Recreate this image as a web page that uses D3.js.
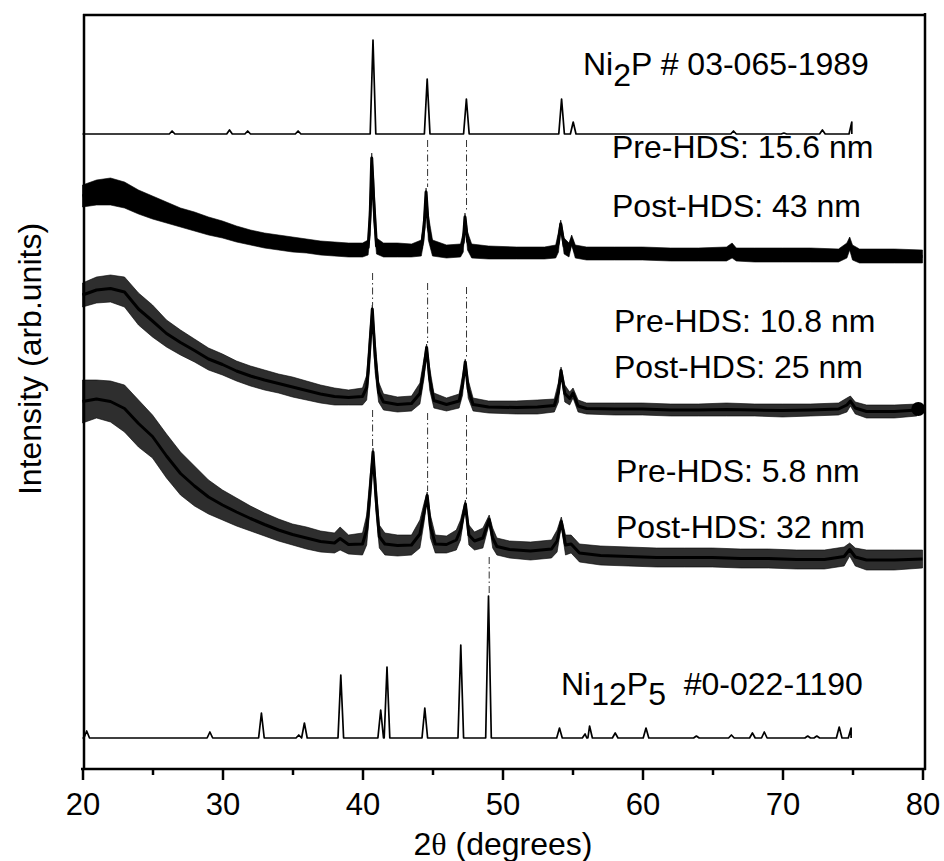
<!DOCTYPE html>
<html lang="en">
<head>
<meta charset="utf-8">
<title>XRD patterns</title>
<script src="https://d3js.org/d3.v7.min.js"></script>
<style>
  body { margin: 0; background: #fff; }
  svg { display: block; }
  text { font-family: "Liberation Sans", Arial, Helvetica, sans-serif; }
  .lbl { font-size: 32px; fill: #000; white-space: pre; }
  .tick text { font-size: 31px; font-family: "Liberation Sans", Arial, Helvetica, sans-serif; }
</style>
</head>
<body>
<svg id="chart" width="944" height="861"></svg>
<script>
// x axis ticks
const xTicks = [20, 30, 40, 50, 60, 70, 80];
const xMinorTicks = [25, 35, 45, 55, 65, 75];

// reference cards: baseline, last 2theta, peaks [2theta, height]
const ni2pBase = 317.5;
const ni2pEnd = 74.95;
const ni2pPeaks = [
  [26.4, 1.5], [30.5, 2], [31.8, 1.5], [35.4, 1.5], [40.75, 47], [44.62, 27.5],
  [47.42, 17.5], [54.22, 17.5], [55.05, 6], [66.5, 1.5], [70.1, 0.5], [72.85, 2], [74.95, 6]
];
const ni12p5Base = 15.5;
const ni12p5End = 74.9;
const ni12p5Peaks = [
  [20.3, 3.5], [29.1, 3], [32.78, 12.5], [35.45, 1.5], [35.85, 7.5], [38.45, 31.5],
  [41.3, 14], [41.75, 35.5], [44.45, 15], [47.02, 46.5], [49.0, 71], [54.07, 5],
  [55.9, 2], [56.22, 6], [58.05, 2.5], [60.25, 5], [63.85, 1], [66.35, 1.5],
  [67.85, 2.5], [68.7, 3], [71.8, 1], [72.45, 1], [74.05, 5.5], [74.9, 5]
];

// measured scans, noise envelope [2theta, low, high]
const scan156 = [
  [20, 281, 292], [21, 282, 294.5], [22, 282, 295.5], [23, 280.5, 293.5], [24, 277.5, 289.5],
  [25, 275, 286.5], [26, 273, 283.5], [27, 271, 280.5], [28, 269, 278.5], [29, 267, 276],
  [30, 265.5, 274], [31, 263.5, 271.5], [32, 262, 269.5], [33, 260.5, 268], [34, 259.5, 267],
  [35, 258.5, 266], [36, 258, 265], [37, 257, 264], [38, 256.5, 263.5], [39, 256, 263],
  [40, 256, 263], [40.4, 257, 264.5], [40.55, 267, 287], [40.66, 303, 308], [40.8, 274.5, 294.5],
  [41, 257.5, 265.5], [41.5, 256, 263], [42.5, 256, 263], [43.5, 256, 262.5], [44.2, 256.5, 264.5],
  [44.4, 264.5, 277], [44.54, 286.5, 290.5], [44.7, 264.5, 277], [45, 256.5, 264.5], [46, 255.5, 262],
  [47, 256, 262.5], [47.2, 258.5, 268.5], [47.32, 274, 278], [47.5, 259.5, 268.5], [47.8, 255.5, 262.5],
  [49, 255, 261.5], [51, 255, 261], [53, 255, 261], [53.8, 255.5, 262], [54, 258.5, 268.5],
  [54.16, 270.5, 274.5], [54.4, 257.5, 265.5], [54.75, 256, 263], [54.94, 262, 267], [55.2, 255.5, 262],
  [56, 254.5, 261], [58, 254.5, 261], [60, 254.5, 261], [62, 254, 260.5], [64, 254, 260.5],
  [66, 254, 261], [66.4, 255.5, 263], [66.7, 254, 260.5], [68, 253.5, 260.5], [70, 253.5, 260.5],
  [72, 253.5, 260.5], [74, 253.5, 260], [74.6, 255.5, 263], [74.8, 259.5, 266], [75, 254.5, 262],
  [75.5, 253, 260], [78, 253, 260], [80, 253, 259.5]
];
const scan108 = [
  [20, 231, 243], [21, 233, 246], [22, 233.5, 247], [23, 231, 246], [24, 222, 238],
  [25, 216, 232], [26, 211, 224.5], [27, 207, 219.5], [28, 203.5, 215], [29, 199.5, 210.5],
  [30, 197, 207.5], [31, 194, 204], [32, 191.5, 201.5], [33, 189.5, 199.5], [34, 188, 197.5],
  [35, 186, 196], [36, 184.5, 194], [37, 183, 192], [38, 182, 190.5], [39, 182, 189.5],
  [40, 182, 190.5], [40.3, 184.5, 197], [40.5, 199.5, 217], [40.7, 228, 232], [40.9, 198.5, 214.5],
  [41.15, 183.5, 193.5], [41.5, 179.5, 187.5], [42.5, 178.5, 186], [43.5, 179, 186.5], [44.1, 182.5, 193],
  [44.4, 195.5, 205.5], [44.58, 209, 212.5], [44.8, 189.5, 200.5], [45.1, 180.5, 188], [46, 179, 185.5],
  [46.9, 180.5, 187.5], [47.15, 187, 197], [47.34, 202, 205], [47.55, 185.5, 194.5], [47.9, 179, 185.5],
  [49, 178, 184], [51, 177.5, 184], [52.5, 177.5, 184.5], [53.7, 178.5, 185], [54, 183.5, 193.5],
  [54.18, 197.5, 201], [54.45, 183.5, 192], [54.8, 182, 188.5], [55.04, 185.5, 190.5], [55.4, 178.5, 184.5],
  [56, 177.5, 183], [58, 177, 183], [60, 177, 183], [62, 176.5, 182.5], [64, 176.5, 182.5],
  [66, 176.5, 183], [68, 176.5, 182.5], [70, 176, 182.5], [72, 176.5, 182.5], [74, 177, 183],
  [74.6, 178.5, 185.5], [74.85, 181.5, 186.5], [75.2, 177.5, 183.5], [76, 175.5, 182], [78, 175.5, 182],
  [79.6, 176.5, 182.5]
];
const scan108Dot = [79.7, 180];
const scan58 = [
  [20, 173, 194.5], [21, 175.5, 194.5], [22, 173.5, 194], [23, 168.5, 192], [24, 161, 184.5],
  [25, 155.5, 177], [26, 145.5, 167.5], [27, 137, 158.5], [28, 131.5, 151.5], [29, 127.5, 144.5],
  [30, 124.5, 139.5], [31, 121.5, 135.5], [32, 119, 131.5], [33, 116.5, 128], [34, 114, 125],
  [35, 112, 122.5], [36, 110, 121], [37, 108.5, 119], [38, 108, 118], [38.4, 109.5, 121],
  [39, 107.5, 117], [40, 107, 118], [40.3, 112, 127], [40.55, 132, 147], [40.75, 156.5, 160.5],
  [40.95, 129.5, 144.5], [41.2, 110.5, 122], [41.6, 107, 118], [42.5, 106.5, 117], [43.5, 107, 117],
  [44.1, 110.5, 124.5], [44.4, 123.5, 133], [44.62, 135, 138.5], [44.85, 115.5, 127], [45.2, 108, 117],
  [46, 108, 116.5], [46.7, 109.5, 119.5], [47, 114.5, 124.5], [47.35, 130.5, 134.5], [47.6, 112, 122],
  [48, 109.5, 118.5], [48.6, 110.5, 120.5], [49.05, 122.5, 127], [49.3, 110.5, 120.5], [49.6, 107, 115.5],
  [50.5, 105.5, 114], [52, 104.5, 113.5], [53.5, 105.5, 114.5], [53.9, 108.5, 119.5], [54.2, 121.5, 126],
  [54.5, 107, 117], [54.9, 108, 117], [55.5, 103.5, 112.5], [57, 102, 111.5], [59, 101.5, 111],
  [61, 101, 110.5], [63, 101, 110.5], [65, 101, 110.5], [67, 100.5, 110], [69, 100.5, 110],
  [71, 100, 109.5], [73, 100, 109.5], [74.4, 101.5, 111], [74.8, 106.5, 113], [75.2, 101.5, 110.5],
  [76, 99.5, 109.5], [78, 99.5, 109.5], [80, 100.5, 109.5]
];

// dash-dot guides [2theta, from, to]
const guides = [
  [44.65, 314.5, 291], [47.43, 314.5, 279],
  [40.72, 248, 232], [44.65, 243, 213], [47.43, 241, 206],
  [40.72, 179.5, 161], [44.65, 178, 139], [47.43, 177, 135],
  [49.05, 106, 87]
];

const sampleLabels = [
  "Pre-HDS: 15.6 nm", "Post-HDS: 43 nm",
  "Pre-HDS: 10.8 nm", "Post-HDS: 25 nm",
  "Pre-HDS: 5.8 nm", "Post-HDS: 32 nm"
];

const svg = d3.select("#chart");
const x = d3.scaleLinear().domain([20, 80]).range([82.5, 922.5]);
const y = d3.scaleLinear().domain([0, 377]).range([769, 15]);

// reference card -> line points (narrow triangle per peak)
function cardPoints(peaks, base, end) {
  const pts = [[20, base]];
  peaks.forEach(p => {
    pts.push([p[0] - 0.2, base], [p[0], base + p[1]], [p[0] + 0.2, base]);
  });
  pts.push([end, base]);
  return pts.filter(p => p[0] <= end).sort((a, b) => a[0] - b[0]);
}

const line = d3.line().x(d => x(d[0])).y(d => y(d[1]));
const band = d3.area().x(d => x(d[0])).y0(d => y(d[1])).y1(d => y(d[2]));
const mid = d3.line().x(d => x(d[0])).y(d => y((d[1] + d[2]) / 2));

const plot = svg.append("g");

[[ni2pPeaks, ni2pBase, ni2pEnd], [ni12p5Peaks, ni12p5Base, ni12p5End]].forEach(c => {
  plot.append("path")
    .attr("d", line(cardPoints(c[0], c[1], c[2])))
    .attr("fill", "none")
    .attr("stroke", "#000")
    .attr("stroke-width", 1.7)
    .attr("stroke-linejoin", "round");
});

// noisy scans: dark envelope + black core
const bandOpacity = [1, 0.82, 0.82];
[scan156, scan108, scan58].forEach((s, i) => {
  plot.append("path")
    .attr("d", band(s))
    .attr("fill", "#000")
    .attr("fill-opacity", bandOpacity[i])
    .attr("stroke", "#000")
    .attr("stroke-opacity", 0.6)
    .attr("stroke-width", 1);
  plot.append("path")
    .attr("d", mid(s))
    .attr("fill", "none")
    .attr("stroke", "#000")
    .attr("stroke-width", 3)
    .attr("stroke-linejoin", "round");
});

plot.append("circle")
  .attr("cx", x(scan108Dot[0]))
  .attr("cy", y(scan108Dot[1]))
  .attr("r", 7)
  .attr("fill", "#000");

// guides
plot.selectAll(".guide")
  .data(guides)
  .enter().append("line")
  .attr("class", "guide")
  .attr("x1", d => x(d[0])).attr("x2", d => x(d[0]))
  .attr("y1", d => y(d[1])).attr("y2", d => y(d[2]))
  .attr("stroke", "#333")
  .attr("stroke-width", 1)
  .attr("stroke-dasharray", "7,3,1.5,3");

// frame
const frame = svg.append("g").attr("stroke", "#000").attr("stroke-width", 2.5);
frame.append("line").attr("x1", 84).attr("x2", 84).attr("y1", 14).attr("y2", 770);
frame.append("line").attr("x1", 925).attr("x2", 925).attr("y1", 13).attr("y2", 770);
frame.append("line").attr("x1", 83).attr("x2", 926).attr("y1", 15).attr("y2", 15);
frame.append("line").attr("x1", 81).attr("x2", 926).attr("y1", 769).attr("y2", 769);

// x axis
const xAxis = svg.append("g")
  .attr("transform", "translate(0,769)")
  .call(d3.axisBottom(x).tickValues(xTicks).tickSize(11).tickSizeOuter(0).tickPadding(13));
const xMinor = svg.append("g")
  .attr("transform", "translate(0,769)")
  .call(d3.axisBottom(x).tickValues(xMinorTicks).tickSize(6).tickFormat(""));
[xAxis, xMinor].forEach(g => {
  g.select(".domain").remove();
  g.selectAll(".tick line").attr("stroke", "#000").attr("stroke-width", 2.5);
});
xAxis.selectAll(".tick text").attr("fill", "#000");

// axis titles
const xt = svg.append("text").attr("class", "lbl")
  .attr("x", 503).attr("y", 855).attr("text-anchor", "middle");
xt.append("tspan").text("2");
xt.append("tspan").attr("font-family", "Liberation Serif").text("θ");
xt.append("tspan").text(" (degrees)");

svg.append("text").attr("class", "lbl")
  .attr("transform", "translate(41,359) rotate(-90)")
  .attr("text-anchor", "middle")
  .text("Intensity (arb.units)");

// card labels
const t1 = svg.append("text").attr("class", "lbl").attr("x", 583).attr("y", 75);
t1.append("tspan").text("Ni");
t1.append("tspan").attr("dy", 11).text("2");
t1.append("tspan").attr("dy", -11).text("P # 03-065-1989");

const t2 = svg.append("text").attr("class", "lbl").attr("x", 561).attr("y", 695);
t2.append("tspan").text("Ni");
t2.append("tspan").attr("dy", 10).text("12");
t2.append("tspan").attr("dy", -10).text("P");
t2.append("tspan").attr("dy", 10).text("5");
t2.append("tspan").attr("dy", -10).text("  #0-022-1190");

// sample labels
const labelPos = [[612, 158], [612, 217], [614, 332], [614, 378], [616, 482], [616, 538]];
svg.selectAll(".sample")
  .data(sampleLabels)
  .enter().append("text")
  .attr("class", "lbl sample")
  .attr("x", (d, i) => labelPos[i][0])
  .attr("y", (d, i) => labelPos[i][1])
  .text(d => d);
</script>
</body>
</html>
